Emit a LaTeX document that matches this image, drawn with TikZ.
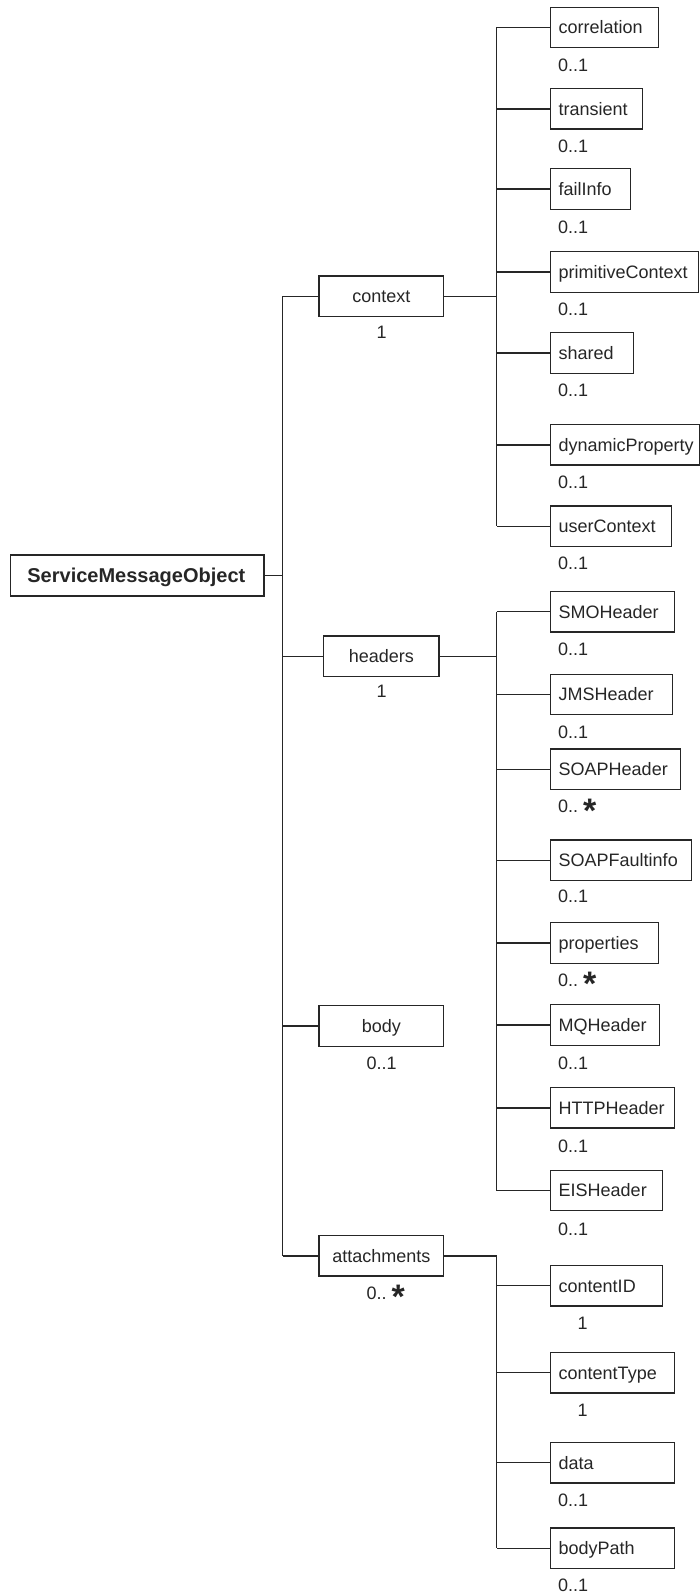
\documentclass[tikz,border=0pt]{standalone}
\usepackage{fontspec}
\setmainfont{Liberation Sans}
\newcommand{\mstar}{\hspace{5pt}\raisebox{-9.5pt}{\fontsize{34}{34}\selectfont\bfseries *}}
\begin{document}
\begin{tikzpicture}[x=1pt,y=-1pt,
  ln/.style={line width=1.4pt, draw=black!85},
  txt/.style={font={\fontsize{18}{21}\selectfont}, text=black!85},
  cbox/.style={txt, draw=black!85, line width=1.4pt, anchor=west, minimum height=40.5pt,
    inner ysep=0pt, inner xsep=8pt, text height=12.9pt, text depth=0pt, align=left, text width=#1},
  pbox/.style={txt, draw=black!85, line width=1.4pt, anchor=west, minimum height=40.5pt,
    inner sep=0pt, text height=12.9pt, text depth=0pt, minimum width=#1},
  lbl/.style={txt, anchor=base west, inner sep=0pt},
  clbl/.style={txt, anchor=base, inner sep=0pt}]
\useasboundingbox (0,0) rectangle (700,1595);

% root
\node[draw=black!85, line width=1.4pt, anchor=west, minimum height=41pt, inner ysep=0pt,
  inner xsep=16.7pt, text width=219.9pt, align=left, text height=14.4pt, text depth=0pt,
  font={\fontsize{20}{23}\selectfont\bfseries}, text=black!85] (smo) at (10,575.5) {ServiceMessageObject};

% level 1
\node[pbox=124.6pt] (ctx) at (318.3,296.3) {context};
\node[clbl] (lctx) at (381.7,338) {1};
\node[pbox=115.6pt] (hdr) at (322.8,656.3) {headers};
\node[clbl] (lhdr) at (381.7,697) {1};
\node[pbox=124.6pt] (body) at (318.3,1026) {body};
\node[clbl] (lbody) at (381.7,1069.3) {0..1};
\node[pbox=124.6pt] (att) at (318.3,1255.8) {attachments};
\node[clbl] (latt) at (385.7,1299.3) {0..\mstar};

% context children
\node[cbox=92pt]    (corr)  at (550,27.5)  {correlation};
\node[lbl] (lcorr) at (558,71) {0..1};
\node[cbox=75.5pt]  (trans) at (550,108.8) {transient};
\node[lbl] (ltrans) at (558,152) {0..1};
\node[cbox=64pt]    (fail)  at (550,189)   {failInfo};
\node[lbl] (lfail) at (558,233.7) {0..1};
\node[cbox=131.8pt] (prim)  at (550,272)   {primitiveContext};
\node[lbl] (lprim) at (558,315) {0..1};
\node[cbox=66.6pt]  (shar)  at (550,353)   {shared};
\node[lbl] (lshar) at (558,396) {0..1};
\node[cbox=133pt]   (dyn)   at (550,444.8) {dynamicProperty};
\node[lbl] (ldyn) at (558,488) {0..1};
\node[cbox=105pt]   (user)  at (550,526.3) {userContext};
\node[lbl] (luser) at (558,569.3) {0..1};

% headers children
\node[cbox=108pt]   (smoh)  at (550,611.7)  {SMOHeader};
\node[lbl] (lsmoh) at (558,655.3) {0..1};
\node[cbox=106pt]   (jms)   at (550,694.5)  {JMSHeader};
\node[lbl] (ljms) at (558,738.3) {0..1};
\node[cbox=114pt]   (soap)  at (550,769.3)  {SOAPHeader};
\node[lbl] (lsoap) at (558,812.7) {0..\mstar};
\node[cbox=124.6pt] (fault) at (550,860.2)  {SOAPFaultinfo};
\node[lbl] (lfault) at (558,902.7) {0..1};
\node[cbox=92pt]    (props) at (550,943)    {properties};
\node[lbl] (lprops) at (558,986) {0..\mstar};
\node[cbox=92.5pt]  (mq)    at (550,1025)   {MQHeader};
\node[lbl] (lmq) at (558,1069.7) {0..1};
\node[cbox=108pt]   (http)  at (550,1107.8) {HTTPHeader};
\node[lbl] (lhttp) at (558,1152) {0..1};
\node[cbox=96pt]    (eis)   at (550,1190.5) {EISHeader};
\node[lbl] (leis) at (558,1235) {0..1};

% attachments children
\node[cbox=96pt]    (cid)   at (550,1285.7) {contentID};
\node[clbl] (lcid) at (582.6,1329.3) {1};
\node[cbox=108pt]   (ctype) at (550,1372.7) {contentType};
\node[clbl] (lctype) at (582.6,1416) {1};
\node[cbox=108pt]   (data)  at (550,1462.7) {data};
\node[lbl] (ldata) at (558,1506) {0..1};
\node[cbox=108pt]   (bpath) at (550,1548.3) {bodyPath};
\node[lbl] (lbpath) at (558,1591) {0..1};

% connectors
\coordinate (tx) at (282.7,0);
\coordinate (cx) at (496.7,0);
\draw[ln] (ctx.west -| tx) -- (att.west -| tx);
\draw[ln] (smo.east) -- (smo.east -| tx);
\foreach \n in {ctx,hdr,body,att}{
  \draw[ln] (\n.west) -- (\n.west -| tx);
}
\draw[ln] (corr.west -| cx) -- (user.west -| cx);
\draw[ln] (smoh.west -| cx) -- (eis.west -| cx);
\draw[ln] (att.east -| cx) -- (bpath.west -| cx);
\foreach \n in {ctx,hdr,att}{
  \draw[ln] (\n.east) -- (\n.east -| cx);
}
\foreach \n in {corr,trans,fail,prim,shar,dyn,user,smoh,jms,soap,fault,props,mq,http,eis,cid,ctype,data,bpath}{
  \draw[ln] (\n.west) -- (\n.west -| cx);
}
\end{tikzpicture}
\end{document}
